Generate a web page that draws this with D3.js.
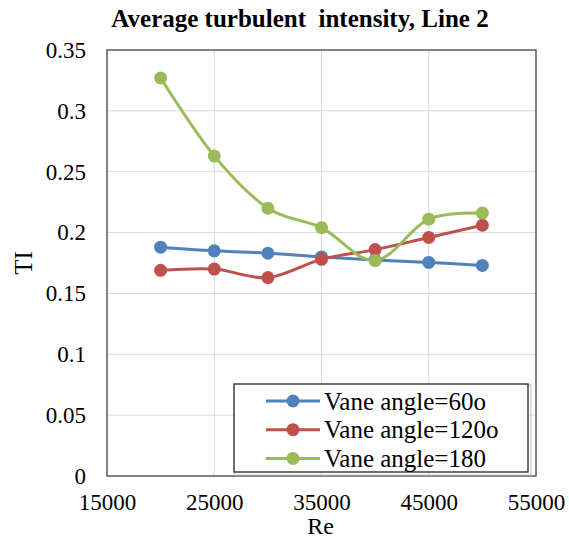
<!DOCTYPE html>
<html>
<head>
<meta charset="utf-8">
<script src="https://cdn.jsdelivr.net/npm/d3@7"></script>
<style>
  html, body { margin: 0; padding: 0; background: #fff; }
  svg { display: block; }
  svg text { font-family: 'Liberation Serif', 'Times New Roman', serif; fill: #000; }
</style>
</head>
<body>
<svg id="chart" width="569" height="540"></svg>
<script>
const reynolds = [20000, 25000, 30000, 35000, 40000, 45000, 50000];
const seriesNames = ["Vane angle=60o", "Vane angle=120o", "Vane angle=180"];
const vane60 = [0.188, 0.185, 0.183, 0.180, 0.1775, 0.1755, 0.173];
const vane120 = [0.169, 0.170, 0.163, 0.178, 0.186, 0.196, 0.206];
const vane180 = [0.327, 0.263, 0.220, 0.204, 0.177, 0.211, 0.216];
const seriesColors = ["#4F81BD", "#C0504D", "#9BBB59"];
const xTicks = [15000, 25000, 35000, 45000, 55000];
const yTicks = [0, 0.05, 0.1, 0.15, 0.2, 0.25, 0.3, 0.35];
const titleText = "Average turbulent  intensity, Line 2";
const xTitle = "Re";
const yTitle = "TI";

(function () {
const series = [vane60, vane120, vane180].map((vals, i) => ({
  name: seriesNames[i], color: seriesColors[i],
  points: vals.map((v, j) => ({ x: reynolds[j], y: v }))
}));

const svg = d3.select("#chart");
const pL = 107, pR = 536, pT = 50, pB = 476;
const x = d3.scaleLinear().domain([15000, 55000]).range([pL, pR]);
const y = d3.scaleLinear().domain([0, 0.35]).range([pB, pT]);

// gridlines
svg.append("g").selectAll("line").data(yTicks.slice(1, -1)).join("line")
  .attr("x1", pL).attr("x2", pR)
  .attr("y1", d => y(d)).attr("y2", d => y(d))
  .attr("stroke", "#d9d9d9").attr("stroke-width", 1);
svg.append("g").selectAll("line").data(xTicks.slice(1, -1)).join("line")
  .attr("y1", pT).attr("y2", pB)
  .attr("x1", d => x(d)).attr("x2", d => x(d))
  .attr("stroke", "#d9d9d9").attr("stroke-width", 1);

// axes (labels only)
const yAxis = d3.axisLeft(y).tickValues(yTicks).tickSize(0).tickPadding(21)
  .tickFormat(d => String(+d.toFixed(2)));
const gy = svg.append("g").attr("transform", `translate(${pL},0)`).call(yAxis);
gy.select(".domain").remove();
gy.selectAll("text").attr("font-size", 23);

const xAxis = d3.axisBottom(x).tickValues(xTicks).tickSize(0).tickPadding(18)
  .tickFormat(d3.format("d"));
const gx = svg.append("g").attr("transform", `translate(0,${pB})`).call(xAxis);
gx.select(".domain").remove();
gx.selectAll("text").attr("font-size", 23);

// plot frame
svg.append("rect").attr("x", pL).attr("y", pT)
  .attr("width", pR - pL).attr("height", pB - pT)
  .attr("fill", "none").attr("stroke", "#595959").attr("stroke-width", 1.5);

// series
const line = d3.line().x(d => x(d.x)).y(d => y(d.y)).curve(d3.curveCatmullRom.alpha(0));
series.forEach(s => {
  svg.append("path").datum(s.points).attr("d", line)
    .attr("fill", "none").attr("stroke", s.color).attr("stroke-width", 3)
    .attr("stroke-linejoin", "round");
});
series.forEach(s => {
  svg.append("g").selectAll("circle").data(s.points).join("circle")
    .attr("cx", d => x(d.x)).attr("cy", d => y(d.y)).attr("r", 6.5)
    .attr("fill", s.color);
});

// legend
const lg = svg.append("g");
lg.append("rect").attr("x", 235).attr("y", 385).attr("width", 296).attr("height", 90)
  .attr("fill", "none").attr("stroke", "#bfbfbf").attr("stroke-width", 1);
lg.append("rect").attr("x", 234).attr("y", 384).attr("width", 294).attr("height", 88)
  .attr("fill", "#fff").attr("stroke", "#404040").attr("stroke-width", 1.5);
series.forEach((s, i) => {
  const cy = 401 + i * 28.7;
  lg.append("line").attr("x1", 266).attr("x2", 320).attr("y1", cy).attr("y2", cy)
    .attr("stroke", s.color).attr("stroke-width", 3);
  lg.append("circle").attr("cx", 293).attr("cy", cy).attr("r", 6.5).attr("fill", s.color);
  lg.append("text").attr("x", 324).attr("y", cy).attr("dy", "0.35em")
    .attr("font-size", 25).text(s.name);
});

// titles
svg.append("text").attr("x", 300).attr("y", 27).attr("text-anchor", "middle")
  .attr("font-size", 25).attr("font-weight", "bold")
  .style("white-space", "pre").text(titleText);
svg.append("text").attr("x", (pL + pR) / 2 - 1).attr("y", 534).attr("text-anchor", "middle")
  .attr("font-size", 24).text(xTitle);
svg.append("text").attr("transform", `translate(32,263) rotate(-90)`).attr("text-anchor", "middle")
  .attr("font-size", 25).text(yTitle);
})();
</script>
</body>
</html>
